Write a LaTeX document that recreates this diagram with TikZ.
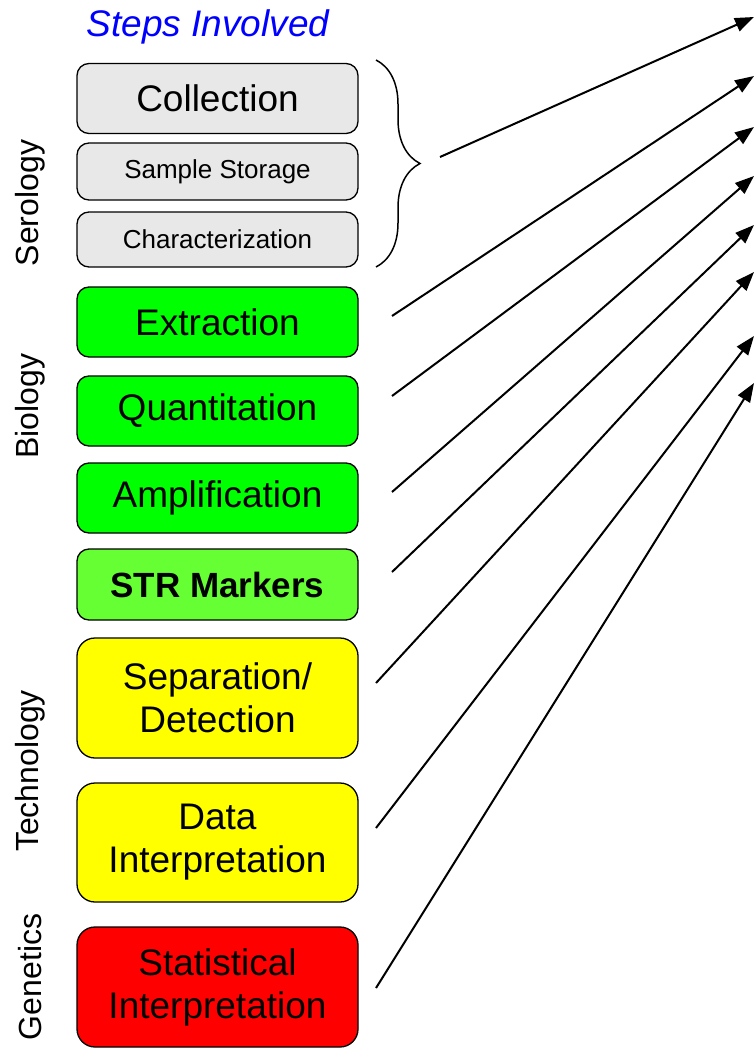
\documentclass[tikz,border=0pt]{standalone}
\usepackage{fontspec}
\setmainfont{Liberation Sans}
\usetikzlibrary{arrows.meta,decorations.pathreplacing}
\definecolor{boxgray}{HTML}{E8E8E8}
\definecolor{boxgreen}{HTML}{00FF00}
\definecolor{strgreen}{HTML}{66FF33}
\definecolor{boxyellow}{HTML}{FFFF00}
\tikzset{
  stepbox/.style={draw=black,line width=1.3pt,rounded corners=12pt,minimum width=281pt,inner sep=0pt,align=center,font=\fontsize{37}{43}\selectfont},
  smallbox/.style={stepbox,font=\fontsize{26}{30}\selectfont},
  field/.style={rotate=90,font=\fontsize{32}{34}\selectfont},
  link/.style={line width=2pt,-{Triangle[length=19pt,width=14pt]}}
}

\begin{document}
\begin{tikzpicture}[x=1pt,y=-1pt]
  \useasboundingbox (0,0) rectangle (755,1057);
 % \draw[thin,gray!40] (0,0) grid[step=50pt] (755,1057);
  \node[text=blue,font=\fontsize{37}{40}\selectfont\itshape] (title) at (208,27) {Steps Involved};
  \node[smallbox,fill=boxgray,minimum height=70pt,font=\fontsize{37}{43}\selectfont] (collect) at (217.5,98.5) {Collection};
  \node[smallbox,fill=boxgray,minimum height=57pt] (storage) at (217.5,171.5) {Sample Storage};
  \node[smallbox,fill=boxgray,minimum height=55pt] (charac) at (217.5,239.5) {Characterization};
  \node[stepbox,fill=boxgreen,minimum height=70pt] (extract) at (217.5,322) {Extraction};
  \node[stepbox,fill=boxgreen,minimum height=70pt] (quant) at (217.5,411) {Quantitation};
  \node[stepbox,fill=boxgreen,minimum height=70pt] (amplify) at (217.5,498) {Amplification};
  \node[stepbox,fill=strgreen,minimum height=71pt,font=\fontsize{35}{43}\selectfont\bfseries] (str) at (217.5,584.5) {STR Markers};
  \node[stepbox,fill=boxyellow,minimum height=120pt,rounded corners=18pt] (sepdet) at (217.5,698) {Separation/\\Detection};
  \node[stepbox,fill=boxyellow,minimum height=119pt,rounded corners=18pt] (data) at (217.5,842.5) {Data\\Interpretation};
  \node[stepbox,fill=red,minimum height=120pt,rounded corners=18pt] (stats) at (217.5,987) {Statistical\\Interpretation};
  \node[field] (serology) at (30,203) {Serology};
  \node[field] (biology) at (30,406) {Biology};
  \node[field] (techno) at (30,771) {Technology};
  \node[field] (genetics) at (30,977) {Genetics};
  \draw[line width=1.5pt,decorate,decoration={brace,amplitude=44pt}] (376,60) -- (376,267);
  % arrow ends
  \coordinate (s1) at (440,157);  \coordinate (e1) at (754,17);
  \coordinate (s2) at (392,316);  \coordinate (e2) at (754,76);
  \coordinate (s3) at (392,396);  \coordinate (e3) at (754,127);
  \coordinate (s4) at (392,492);  \coordinate (e4) at (754,176);
  \coordinate (s5) at (392,572);  \coordinate (e5) at (754,225);
  \coordinate (s6) at (376,683);  \coordinate (e6) at (754,272);
  \coordinate (s7) at (376,828);  \coordinate (e7) at (754,336);
  \coordinate (s8) at (376,988);  \coordinate (e8) at (754,383);
  \foreach \i in {1,...,8}
    \draw[link] (s\i) -- (e\i);
\end{tikzpicture}
\end{document}
